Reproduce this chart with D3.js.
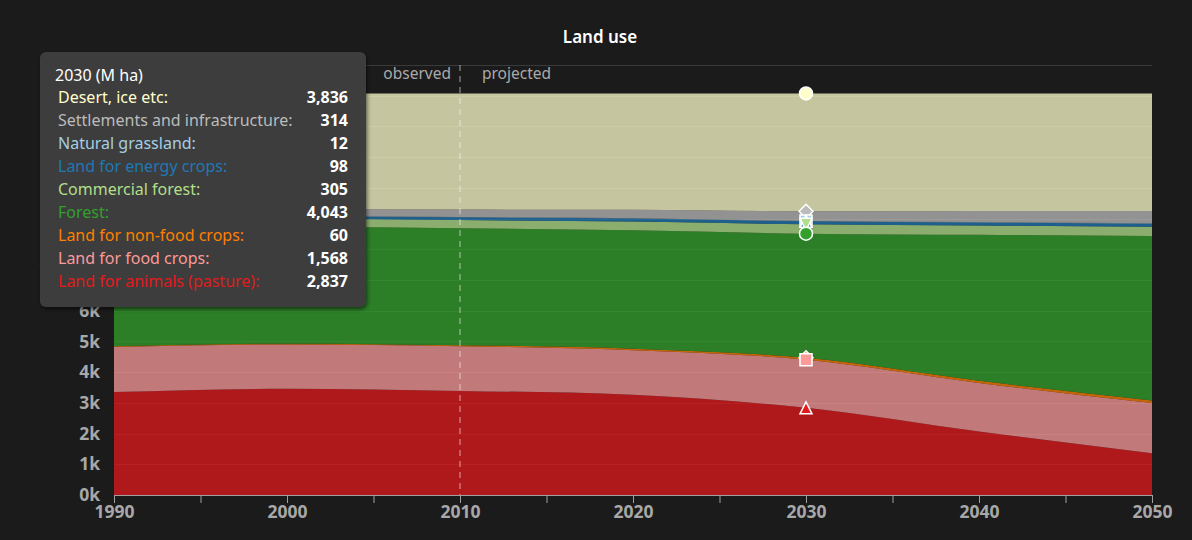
<!DOCTYPE html>
<html>
<head>
<meta charset="utf-8">
<script src="https://cdn.jsdelivr.net/npm/d3@7"></script>
<style>
  body { margin: 0; background: #1b1b1b; }
  svg { display: block; }
  text { font-family: "Noto Sans", sans-serif; }
</style>
</head>
<body>
<svg id="chart" width="1192" height="540"></svg>
<script>
// data (M ha)
const years = [1990, 2000, 2010, 2020, 2030, 2040, 2050];
const seriesNames = ["Desert, ice etc", "Settlements and infrastructure", "Natural grassland",
    "Land for energy crops", "Commercial forest", "Forest", "Land for non-food crops",
    "Land for food crops", "Land for animals (pasture)"];
const desert = [3741, 3761, 3781, 3786, 3836, 3826, 3827];
const settlements = [200, 215, 240, 275, 314, 360, 399];
const grassland = [12, 12, 12, 12, 12, 12, 12];
const energyCrops = [80, 85, 90, 95, 98, 100, 100];
const commercialForest = [240, 250, 265, 285, 305, 305, 305];
const forest = [3960, 3822, 3806, 3855, 4043, 4750, 5352];
const nonFoodCrops = [20, 25, 35, 50, 60, 70, 80];
const foodCrops = [1468, 1443, 1454, 1451, 1568, 1584, 1637];
const pasture = [3352, 3460, 3390, 3264, 2837, 2066, 1361];
const yTicks = [0, 1000, 2000, 3000, 4000, 5000, 6000, 7000, 8000, 9000, 10000, 11000, 12000, 13000, 14000];
const xTicks = [1990, 1995, 2000, 2005, 2010, 2015, 2020, 2025, 2030, 2035, 2040, 2045, 2050];
const splitYear = 2010;
const phaseLabels = ["observed", "projected"];
const tooltipYear = 2030;

const seriesValues = [desert, settlements, grassland, energyCrops, commercialForest,
    forest, nonFoodCrops, foodCrops, pasture];
const colors = ["#ffffcc", "#bbbbbb", "#a6cee3", "#1f78b4", "#b2df8a",
    "#33a02c", "#ff7f00", "#fb9a99", "#e31a1c"];

// custom marker shapes
const triUp = {draw(p, s) { const r = Math.sqrt(s) / 2; p.moveTo(0, -r); p.lineTo(r, r); p.lineTo(-r, r); p.closePath(); }};
const triDown = {draw(p, s) { const r = Math.sqrt(s) / 2; p.moveTo(-r, -r); p.lineTo(r, -r); p.lineTo(0, r); p.closePath(); }};
const diamond = {draw(p, s) { const r = Math.sqrt(s) / 2 + 1; p.moveTo(0, -r); p.lineTo(r, 0); p.lineTo(0, r); p.lineTo(-r, 0); p.closePath(); }};
const circle = {draw(p, s) { const r = Math.sqrt(s) / 2 + 0.5; p.moveTo(r, 0); p.arc(0, 0, r, 0, 2 * Math.PI); }};
const symbols = [circle, diamond, d3.symbolSquare, triUp, triDown, circle, diamond, d3.symbolSquare, triUp];

// table for the stack
const table = years.map((yr, i) => {
    const row = {year: yr};
    seriesNames.forEach((n, j) => row[n] = seriesValues[j][i]);
    return row;
});

const margin = {top: 65, right: 40, bottom: 45, left: 114},
    width = 1192 - margin.left - margin.right,
    height = 540 - margin.top - margin.bottom;

const svg = d3.select("#chart");

svg.append("text")
    .attr("x", 600).attr("y", 43)
    .attr("text-anchor", "middle")
    .attr("fill", "#ffffff")
    .style("font-size", "17px").style("font-weight", "600")
    .text("Land use");

const g = svg.append("g")
    .attr("transform", `translate(${margin.left},${margin.top})`);

const x = d3.scaleLinear().domain([1990, 2050]).range([0, width]);
const y = d3.scaleLinear().domain([0, 14000]).range([height, 0]);

// gridlines (under the semi transparent areas)
g.append("g").selectAll("line")
    .data(yTicks)
    .join("line")
    .attr("x1", 0).attr("x2", width)
    .attr("y1", d => Math.round(y(d)) + 0.5).attr("y2", d => Math.round(y(d)) + 0.5)
    .attr("stroke", "#3a3a3a");

// stacked areas, bottom key first
const keys = seriesNames.slice().reverse();
const stack = d3.stack().keys(keys);
const layers = stack(table);

const area = d3.area()
    .x(d => x(d.data.year))
    .y0(d => y(d[0]))
    .y1(d => y(d[1]))
    .curve(d3.curveMonotoneX);

g.append("g").selectAll("path")
    .data(layers)
    .join("path")
    .attr("fill", d => colors[seriesNames.indexOf(d.key)])
    .attr("fill-opacity", 0.75)
    .attr("d", area);

// observed / projected split
g.append("line")
    .attr("x1", x(splitYear)).attr("x2", x(splitYear))
    .attr("y1", 0).attr("y2", height)
    .attr("stroke", "#ffffff").attr("stroke-opacity", 0.4)
    .attr("stroke-width", 1.5)
    .attr("stroke-dasharray", "6,5");

g.append("text")
    .attr("x", x(splitYear) - 9).attr("y", 14)
    .attr("text-anchor", "end")
    .attr("fill", "#aaaaaa").style("font-size", "15.5px")
    .text(phaseLabels[0]);
g.append("text")
    .attr("x", x(splitYear) + 22).attr("y", 14)
    .attr("fill", "#aaaaaa").style("font-size", "15.5px")
    .text(phaseLabels[1]);

// hover markers at the tooltip year, top series drawn first
const idx = years.indexOf(tooltipYear);
const markerData = layers.slice().reverse();
g.append("g").selectAll("path")
    .data(markerData)
    .join("path")
    .attr("transform", d => `translate(${x(tooltipYear)},${y(d[idx][1])})`)
    .attr("d", d => d3.symbol().type(symbols[seriesNames.indexOf(d.key)]).size(144)())
    .attr("fill", d => colors[seriesNames.indexOf(d.key)])
    .attr("stroke", "#ffffff")
    .attr("stroke-width", 1.5);

// axes
const xAxis = g.append("g")
    .attr("transform", `translate(0,${height})`)
    .call(d3.axisBottom(x).tickValues(xTicks).tickSize(8).tickSizeOuter(0).tickPadding(3)
        .tickFormat(d => d % 10 === 0 ? d : ""));
xAxis.select(".domain").attr("stroke", "#a0a0a0");
xAxis.selectAll(".tick line").attr("stroke", "#a0a0a0");
xAxis.selectAll("text")
    .attr("fill", "#a8a8a8")
    .style("font-size", "17.5px").style("font-weight", "bold")
    .style("font-family", "'Noto Sans', sans-serif");

const yAxis = g.append("g")
    .call(d3.axisLeft(y).tickValues(yTicks).tickSize(0).tickPadding(14)
        .tickFormat(d => d / 1000 + "k"));
yAxis.select(".domain").remove();
yAxis.selectAll("text")
    .attr("fill", "#a8a8a8")
    .style("font-size", "17.5px").style("font-weight", "bold")
    .style("font-family", "'Noto Sans', sans-serif");

// y title, nearly all of it sits behind the tooltip
svg.append("text")
    .attr("transform", "translate(51,268) rotate(-90)")
    .attr("text-anchor", "middle")
    .attr("fill", "#9aa4b0").style("font-size", "15px")
    .text("M ha");

// tooltip
const defs = svg.append("defs");
const shadow = defs.append("filter").attr("id", "shadow")
    .attr("x", "-10%").attr("y", "-10%").attr("width", "120%").attr("height", "120%");
shadow.append("feDropShadow")
    .attr("dx", 1).attr("dy", 2).attr("stdDeviation", 2)
    .attr("flood-color", "#000").attr("flood-opacity", 0.6);

const tip = svg.append("g").attr("transform", "translate(40,52)");
tip.append("rect")
    .attr("width", 326).attr("height", 255).attr("rx", 6)
    .attr("fill", "#3e3e3e")
    .attr("filter", "url(#shadow)");
tip.append("text")
    .attr("x", 15).attr("y", 29)
    .attr("fill", "#ffffff").style("font-size", "16px")
    .text(`${tooltipYear} (M ha)`);

const fmt = d3.format(",");
const rows = tip.selectAll("g.row")
    .data(seriesNames)
    .join("g")
    .attr("class", "row")
    .attr("transform", (d, i) => `translate(0,${51 + i * 23})`);
rows.append("text")
    .attr("x", 18)
    .attr("fill", (d, i) => colors[i])
    .style("font-size", "16px")
    .text(d => d + ":");
rows.append("text")
    .attr("x", 308)
    .attr("text-anchor", "end")
    .attr("fill", "#ffffff")
    .style("font-size", "16px").style("font-weight", "bold")
    .text((d, i) => fmt(seriesValues[i][idx]));
</script>
</body>
</html>
